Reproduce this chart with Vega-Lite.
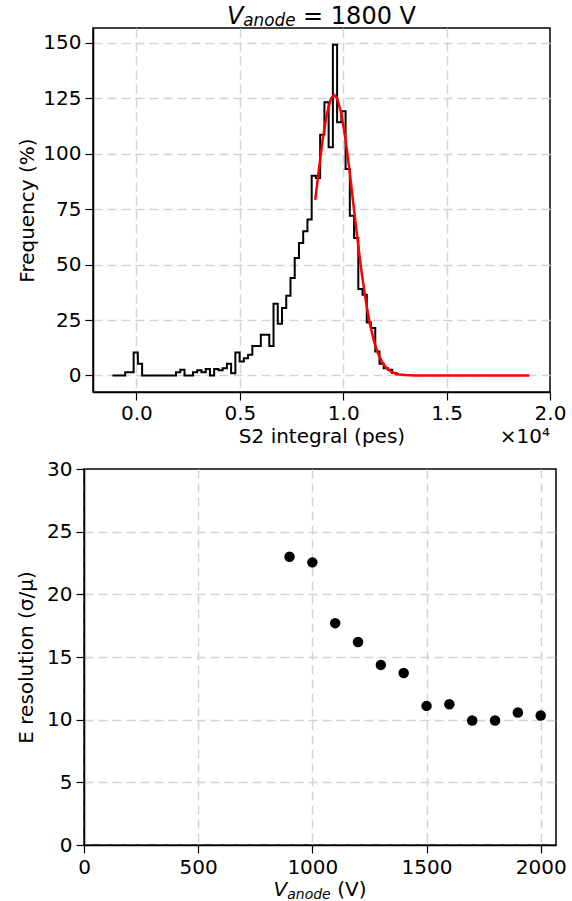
{
  "$schema": "https://vega.github.io/schema/vega-lite/v6.json",
  "padding": {"left": 15, "top": 3, "right": 0, "bottom": 0},
  "spacing": 10,
  "config": {
    "font": "DejaVu Sans",
    "view": {"stroke": "black", "strokeWidth": 1.5},
    "axis": {
      "labelFont": "DejaVu Sans", "titleFont": "DejaVu Sans",
      "labelFontSize": 20, "titleFontSize": 20, "titleFontWeight": "normal",
      "labelColor": "#000", "titleColor": "#000",
      "tickColor": "#000", "tickSize": 8, "tickWidth": 1.2,
      "domain": true, "domainColor": "#000", "domainWidth": 1.5,
      "gridDash": [9, 5], "gridColor": "#d3d3d3", "gridWidth": 1.5,
      "labelFlush": false, "labelOverlap": false
    },
    "text": {"font": "DejaVu Sans", "color": "black"}
  },
  "datasets": {
    "hist": [
      {"s2": -1160, "freq": 0}, {"s2": -955, "freq": 0}, {"s2": -750, "freq": 0},
      {"s2": -545, "freq": 1.4}, {"s2": -340, "freq": 1.4}, {"s2": -135, "freq": 10.4},
      {"s2": 70, "freq": 5.3}, {"s2": 275, "freq": 0}, {"s2": 480, "freq": 0},
      {"s2": 685, "freq": 0}, {"s2": 890, "freq": 0}, {"s2": 1095, "freq": 0},
      {"s2": 1300, "freq": 0}, {"s2": 1505, "freq": 0}, {"s2": 1710, "freq": 0},
      {"s2": 1915, "freq": 1.4}, {"s2": 2120, "freq": 2.6}, {"s2": 2325, "freq": 0},
      {"s2": 2530, "freq": 0}, {"s2": 2735, "freq": 1.4}, {"s2": 2940, "freq": 2.3},
      {"s2": 3145, "freq": 1.4}, {"s2": 3350, "freq": 2.9}, {"s2": 3555, "freq": 0},
      {"s2": 3760, "freq": 2.9}, {"s2": 3965, "freq": 2.3}, {"s2": 4170, "freq": 3.3},
      {"s2": 4375, "freq": 5.3}, {"s2": 4580, "freq": 1.0}, {"s2": 4785, "freq": 10.4},
      {"s2": 4990, "freq": 6.3}, {"s2": 5195, "freq": 7.8}, {"s2": 5400, "freq": 9.3},
      {"s2": 5605, "freq": 13.3}, {"s2": 5810, "freq": 13.3}, {"s2": 6015, "freq": 18.4},
      {"s2": 6220, "freq": 18.4}, {"s2": 6425, "freq": 13.3}, {"s2": 6630, "freq": 32.3},
      {"s2": 6835, "freq": 23.3}, {"s2": 7040, "freq": 30.4}, {"s2": 7245, "freq": 36},
      {"s2": 7450, "freq": 44}, {"s2": 7655, "freq": 53}, {"s2": 7860, "freq": 59.7},
      {"s2": 8065, "freq": 65}, {"s2": 8270, "freq": 70.3}, {"s2": 8475, "freq": 90.1},
      {"s2": 8680, "freq": 89}, {"s2": 8885, "freq": 108.6}, {"s2": 9090, "freq": 123.2},
      {"s2": 9295, "freq": 102.9}, {"s2": 9500, "freq": 149.2}, {"s2": 9705, "freq": 114.2},
      {"s2": 9910, "freq": 119.1}, {"s2": 10115, "freq": 93.1}, {"s2": 10320, "freq": 72},
      {"s2": 10525, "freq": 62}, {"s2": 10730, "freq": 39}, {"s2": 10935, "freq": 36.4},
      {"s2": 11140, "freq": 23.9}, {"s2": 11345, "freq": 21.4}, {"s2": 11550, "freq": 10.8},
      {"s2": 11755, "freq": 5.3}, {"s2": 11960, "freq": 3.3}, {"s2": 12165, "freq": 2.6},
      {"s2": 12370, "freq": 1.1}, {"s2": 12575, "freq": 0}
    ],
    "fit": [
      {"s2": 8650, "freq": 79.2}, {"s2": 8800, "freq": 91.2}, {"s2": 9000, "freq": 105.9},
      {"s2": 9200, "freq": 117.6}, {"s2": 9400, "freq": 124.7}, {"s2": 9560, "freq": 126.5},
      {"s2": 9700, "freq": 125.1}, {"s2": 9900, "freq": 118.5}, {"s2": 10100, "freq": 107.3},
      {"s2": 10300, "freq": 92.8}, {"s2": 10500, "freq": 76.7}, {"s2": 10700, "freq": 60.6},
      {"s2": 10900, "freq": 45.8}, {"s2": 11100, "freq": 33.1}, {"s2": 11300, "freq": 22.8},
      {"s2": 11500, "freq": 15.0}, {"s2": 11700, "freq": 9.5}, {"s2": 11900, "freq": 5.7},
      {"s2": 12100, "freq": 3.3}, {"s2": 12300, "freq": 1.8}, {"s2": 12500, "freq": 0.95},
      {"s2": 12700, "freq": 0.48}, {"s2": 13000, "freq": 0.16}, {"s2": 13500, "freq": 0.02},
      {"s2": 14000, "freq": 0}, {"s2": 19000, "freq": 0}
    ],
    "res": [
      {"v": 900, "res": 23.0}, {"v": 1000, "res": 22.55}, {"v": 1100, "res": 17.7},
      {"v": 1200, "res": 16.2}, {"v": 1300, "res": 14.37}, {"v": 1400, "res": 13.73},
      {"v": 1500, "res": 11.1}, {"v": 1600, "res": 11.23}, {"v": 1700, "res": 9.93},
      {"v": 1800, "res": 9.93}, {"v": 1900, "res": 10.57}, {"v": 2000, "res": 10.33}
    ]
  },
  "vconcat": [
    {
      "spacing": 0,
      "hconcat": [
        {
          "width": 1, "height": 10,
          "view": {"stroke": null},
          "data": {"values": []},
          "mark": {"type": "point", "opacity": 0},
          "encoding": {}
        },
        {
          "width": 457,
          "height": 364,
          "layer": [
            {
              "data": {"name": "hist"},
              "mark": {"type": "line", "interpolate": "step-after", "color": "black", "strokeWidth": 2},
              "encoding": {
                "x": {"field": "s2", "type": "quantitative",
                  "scale": {"domain": [-2100, 20000], "nice": false, "zero": false},
                  "axis": {"title": "S2 integral (pes)", "values": [0, 5000, 10000, 15000, 20000],
                    "labelExpr": "format(datum.value/10000, '.1f')", "labelPadding": 3, "titlePadding": 3,
                    "gridOpacity": {"condition": {"test": "datum.value >= 20000", "value": 0}, "value": 1}}},
                "y": {"field": "freq", "type": "quantitative",
                  "scale": {"domain": [-7.46, 156.7], "nice": false, "zero": false},
                  "axis": {"title": "Frequency (%)", "values": [0, 25, 50, 75, 100, 125, 150],
                    "labelPadding": 4, "titlePadding": 5.5}}
              }
            },
            {
              "data": {"name": "fit"},
              "mark": {"type": "line", "color": "red", "strokeWidth": 2.5},
              "encoding": {
                "x": {"field": "s2", "type": "quantitative"},
                "y": {"field": "freq", "type": "quantitative"}
              }
            },
            {
              "data": {"values": [{"t": "V"}]},
              "mark": {"type": "text", "fontStyle": "italic", "fontSize": 24, "align": "left", "baseline": "alphabetic", "dx": -94.6, "dy": -4.5},
              "encoding": {"x": {"datum": 8950}, "y": {"datum": 156.7}, "text": {"field": "t"}}
            },
            {
              "data": {"values": [{"t": "anode"}]},
              "mark": {"type": "text", "fontStyle": "italic", "fontSize": 16.8, "align": "left", "baseline": "alphabetic", "dx": -78.2, "dy": -1.6},
              "encoding": {"x": {"datum": 8950}, "y": {"datum": 156.7}, "text": {"field": "t"}}
            },
            {
              "data": {"values": [{"t": "= 1800 V"}]},
              "mark": {"type": "text", "fontSize": 24, "align": "left", "baseline": "alphabetic", "dx": -18.4, "dy": -4.5},
              "encoding": {"x": {"datum": 8950}, "y": {"datum": 156.7}, "text": {"field": "t"}}
            },
            {
              "data": {"values": [{"t": "×10⁴"}]},
              "mark": {"type": "text", "fontSize": 20, "align": "right", "baseline": "middle", "dy": 45},
              "encoding": {"x": {"datum": 20000}, "y": {"datum": -7.46}, "text": {"field": "t"}}
            }
          ]
        }
      ]
    },
    {
      "spacing": 0,
      "hconcat": [
        {
          "width": 1, "height": 10,
          "view": {"stroke": null},
          "data": {"values": []},
          "mark": {"type": "point", "opacity": 0},
          "encoding": {}
        },
        {
          "width": 472,
          "height": 376,
          "layer": [
            {
              "data": {"name": "res"},
              "mark": {"type": "circle", "size": 110, "color": "black", "opacity": 1},
              "encoding": {
                "x": {"field": "v", "type": "quantitative",
                  "scale": {"domain": [0, 2067], "nice": false},
                  "axis": {"title": null, "values": [0, 500, 1000, 1500, 2000], "format": "d", "labelPadding": 4}},
                "y": {"field": "res", "type": "quantitative",
                  "scale": {"domain": [0, 30], "nice": false},
                  "axis": {"title": "E resolution (σ/μ)", "values": [0, 5, 10, 15, 20, 25, 30],
                    "labelPadding": 4, "titlePadding": 9.6,
                    "gridOpacity": {"condition": {"test": "datum.value >= 30", "value": 0}, "value": 1}}}
              }
            },
            {
              "data": {"values": [{"t": "V"}]},
              "mark": {"type": "text", "fontStyle": "italic", "fontSize": 20, "align": "left", "baseline": "alphabetic", "dx": -46.5, "dy": 50.5},
              "encoding": {"x": {"datum": 1033.5}, "y": {"datum": 0}, "text": {"field": "t"}}
            },
            {
              "data": {"values": [{"t": "anode"}]},
              "mark": {"type": "text", "fontStyle": "italic", "fontSize": 14, "align": "left", "baseline": "alphabetic", "dx": -32.8, "dy": 53.5},
              "encoding": {"x": {"datum": 1033.5}, "y": {"datum": 0}, "text": {"field": "t"}}
            },
            {
              "data": {"values": [{"t": "(V)"}]},
              "mark": {"type": "text", "fontSize": 20, "align": "left", "baseline": "alphabetic", "dx": 17.2, "dy": 50.5},
              "encoding": {"x": {"datum": 1033.5}, "y": {"datum": 0}, "text": {"field": "t"}}
            }
          ]
        }
      ]
    }
  ]
}
